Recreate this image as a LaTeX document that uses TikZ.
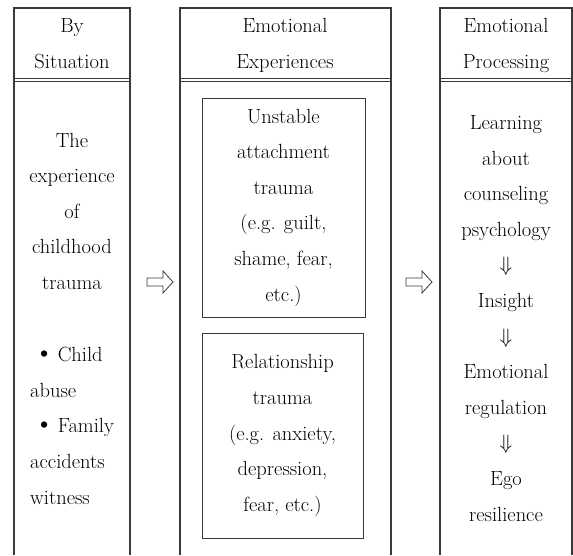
\documentclass[tikz,border=0pt]{standalone}
\usepackage{amsmath}
\usepackage{amssymb}
\usepackage{xcolor}
\usepackage{tikz}

\definecolor{rulegray}{HTML}{3A3A3A}
\newcommand{\bigdot}{{\fontsize{28}{35.6}\selectfont\textbullet}}

\begin{document}
\begin{tikzpicture}[x=1pt,y=-1pt,
        frame/.style={draw=rulegray, line width=1.2pt},
        txt/.style={font=\fontsize{20.5}{35.6}\selectfont, inner sep=0pt, align=center},
        tbox/.style={draw=rulegray, line width=1pt, minimum width=163pt, inner sep=0pt,
            font=\fontsize{20.5}{35.6}\selectfont, align=center},
        hollow/.style={draw=rulegray, line width=0.8pt, fill=white}]
    \useasboundingbox (0,0) rectangle (573,555);

    % the three columns, open at the bottom
    \draw[frame] (14,555) |- (130,8) -- (130,555);
    \draw[frame] (180,555) |- (391,8) -- (391,555);
    \draw[frame] (440,555) |- (572,8) -- (572,555);

    % double rule under each heading
    \draw[frame] (14,78.5) -- (130,78.5);
    \draw[frame] (14,81.2) -- (130,81.2);
    \draw[frame] (180,78.5) -- (391,78.5);
    \draw[frame] (180,81.2) -- (391,81.2);
    \draw[frame] (440,78.5) -- (572,78.5);
    \draw[frame] (440,81.2) -- (572,81.2);

    % headings (anchored on the baseline of their last line)
    \node[txt, anchor=base] (situation) at (72,68) {By\\Situation};
    \node[txt, anchor=base] (experiences) at (285,68) {Emotional\\Experiences};
    \node[txt, anchor=base] (processing) at (506,68) {Emotional\\Processing};

    % left column
    \node[txt, anchor=base] (childhood) at (72,289.5) {The\\experience\\of\\childhood\\trauma};
    \node[txt, align=left, anchor=base west] (cases) at (30,504)
        {\hspace*{4pt}\bigdot\,Child\\abuse\\\hspace*{4pt}\bigdot\,Family\\accidents\\witness};

    % middle column
    \node[tbox, minimum height=219pt] (unstable) at (283.5,207.5)
        {Unstable\\attachment\\trauma\\(e.g. guilt,\\shame, fear,\\etc.)};
    \node[tbox, minimum width=161pt, minimum height=205pt] (relation) at (282.5,435.5)
        {Relationship\\trauma\\(e.g. anxiety,\\depression,\\fear, etc.)};

    % right column
    \node[txt, anchor=base] (steps) at (506,521)
        {Learning\\about\\counseling\\psychology\\$\Downarrow$\\Insight\\$\Downarrow$\\Emotional\\regulation\\$\Downarrow$\\Ego\\resilience};

    % hollow arrows between the columns
    \coordinate (gapA) at (160,282);
    \coordinate (gapB) at (419,282);
    \draw[hollow] (gapA) ++(-13,-4) -- ++(16,0) -- ++(0,-7) -- ++(10,11) -- ++(-10,11) -- ++(0,-7) -- ++(-16,0) -- cycle;
    \draw[hollow] (gapB) ++(-13,-4) -- ++(16,0) -- ++(0,-7) -- ++(10,11) -- ++(-10,11) -- ++(0,-7) -- ++(-16,0) -- cycle;
\end{tikzpicture}
\end{document}
